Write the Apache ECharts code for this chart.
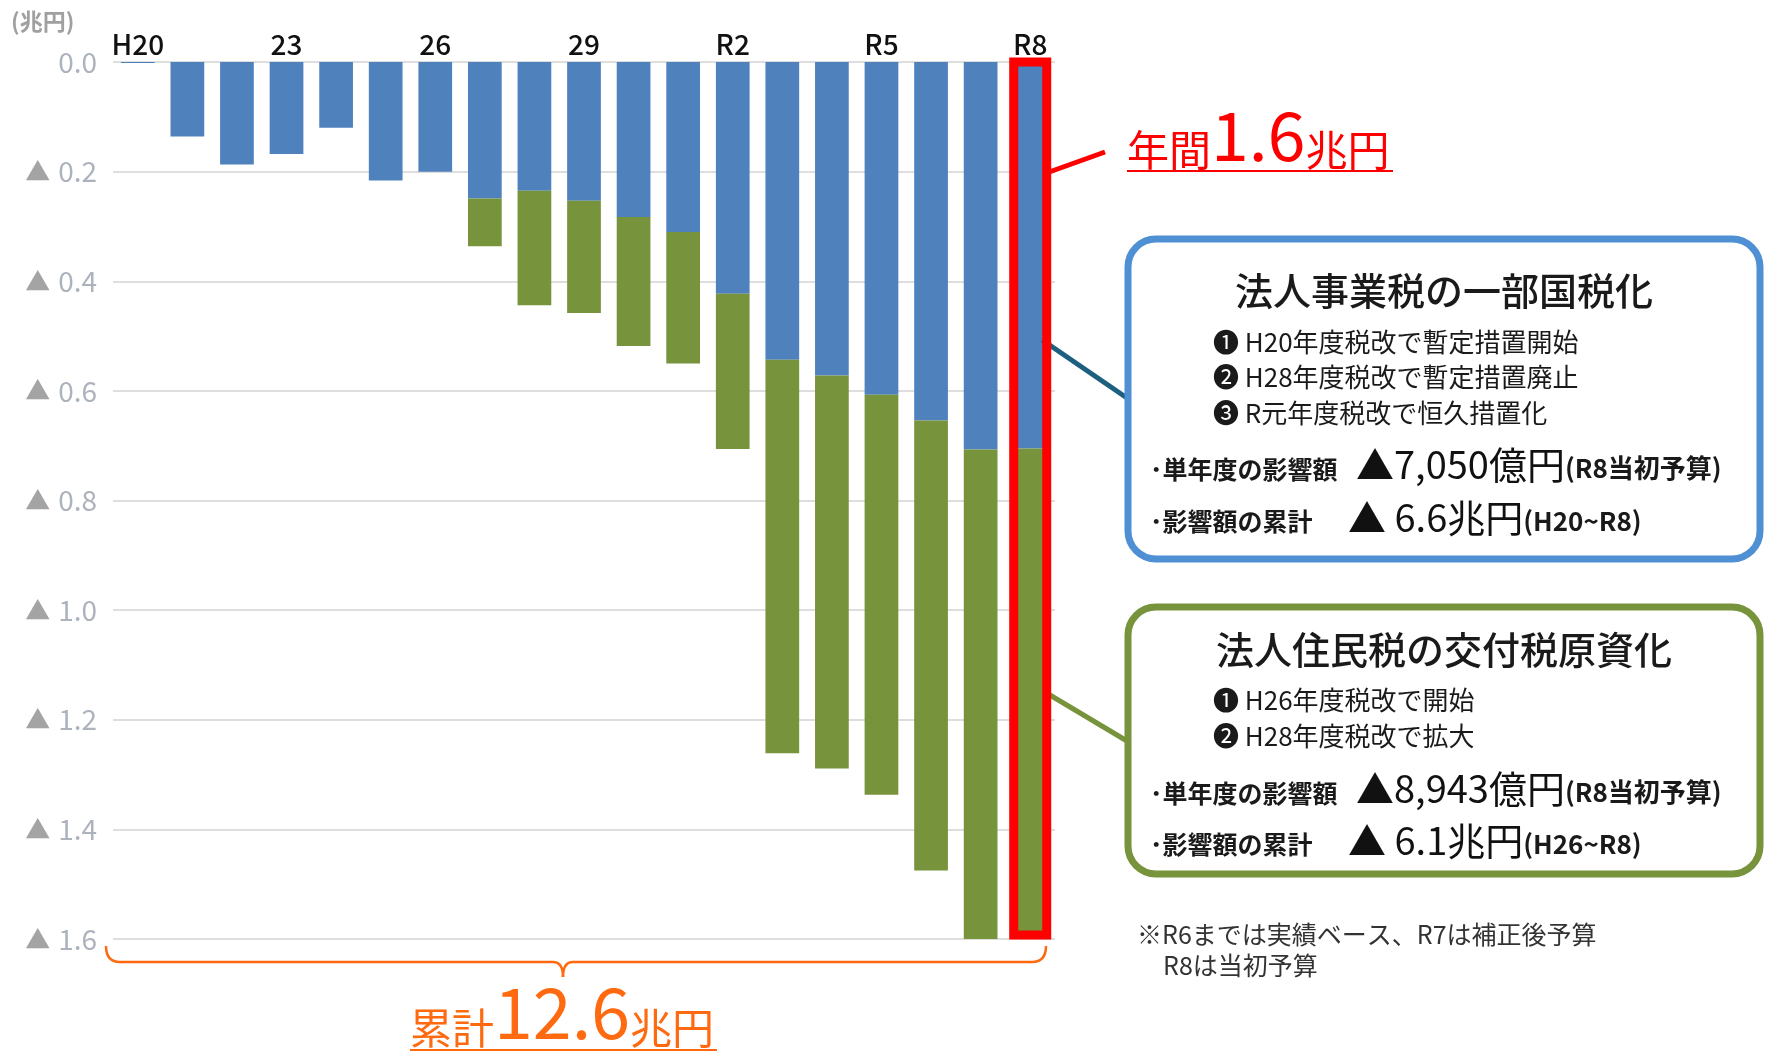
<!DOCTYPE html>
<html><head><meta charset="utf-8">
<script src="https://cdn.jsdelivr.net/npm/echarts@6/dist/echarts.min.js"></script>
<style>html,body{margin:0;padding:0;background:#fff}#c{width:1767px;height:1053px}</style>
</head><body><div id="c"></div>
<script>
// ---- data (兆円) ----
const categories = ['H20','21','22','23','24','25','26','27','28','29','30','R元','R2','R3','R4','R5','R6','R7','R8'];
const enterpriseTax = [0.002,0.136,0.187,0.168,0.120,0.216,0.200,0.249,0.235,0.253,0.283,0.310,0.423,0.543,0.572,0.607,0.654,0.707,0.705];
const inhabitantTax = [0,0,0,0,0,0,0,0.087,0.209,0.205,0.235,0.240,0.283,0.718,0.717,0.730,0.821,0.893,0.894];
const yMin = 0, yMax = 1.6, yStep = 0.2;
const shownTickIdx = [0,3,6,9,12,15,18];

const FONT = '"Noto Sans CJK JP","Noto Sans",sans-serif';
const chart = echarts.init(document.getElementById('c'), null, {renderer:'canvas'});

const option = {
  animation: false,
  backgroundColor: '#fff',
  grid: {left: 113, right: 712, top: 62, bottom: 114},
  xAxis: {
    type: 'category', data: categories, position: 'top',
    axisLine: {show: false}, axisTick: {show: false},
    axisLabel: {
      interval: (i) => shownTickIdx.includes(i),
      color: '#111', fontSize: 28, fontWeight: 500, fontFamily: FONT, margin: 4
    }
  },
  yAxis: {
    type: 'value', inverse: true, min: yMin, max: yMax, interval: yStep,
    axisLine: {show: false}, axisTick: {show: false},
    splitLine: {lineStyle: {color: '#dedede', width: 2}},
    axisLabel: {
      margin: 16, fontFamily: FONT,
      formatter: (v) => v === 0 ? '{n|0.0}' : '{t|▲}{n|' + v.toFixed(1) + '}',
      rich: {
        t: {color: '#a4a4a4', fontSize: 25, fontFamily: FONT, padding: [0, 8, 0, 0]},
        n: {color: '#adb3bd', fontSize: 28, fontFamily: FONT}
      }
    }
  },
  series: [
    {name: '法人事業税', type: 'bar', stack: 'total', data: enterpriseTax, barWidth: '68%',
     itemStyle: {color: '#4f81bd'}},
    {name: '法人住民税', type: 'bar', stack: 'total', data: inhabitantTax, barWidth: '68%',
     itemStyle: {color: '#77933c'}}
  ]
};
chart.setOption(option);

// positions derived from the chart scales
const last = categories.length - 1;
const p0 = chart.convertToPixel({gridIndex: 0}, [last, yMin]);
const p1 = chart.convertToPixel({gridIndex: 0}, [last, yMax]);
const cx = p0[0];

const boxText = (x, y, text, size, opts = {}) => ({
  type: 'text', z: 10,
  style: Object.assign({x, y, text, fill: '#1a1a1a', font: (opts.weight || 'normal') + ' ' + size + 'px ' + FONT,
    textAlign: opts.align || 'left', textVerticalAlign: 'middle'}, opts.style || {})
});

const rich = (x, y, text, richDef, align) => ({
  type: 'text', z: 10,
  style: {x, y, text, rich: richDef, textAlign: align || 'left', textVerticalAlign: 'middle', fill: '#1a1a1a', font: '24px ' + FONT}
});

const statRich = {
  b: {fontSize: 38, fontFamily: FONT, fill: '#111', verticalAlign: 'bottom'},
  p: {fontSize: 26, fontWeight: 'bold', fontFamily: FONT, fill: '#1a1a1a', verticalAlign: 'bottom', padding: [0,0,3,0]}
};
const ORANGE = '#ff6a10';

const graphics = [
  // unit
  boxText(11, 21, '(兆円)', 23, {weight: 'bold', style: {fill: '#a0a0a0'}}),
  // red highlight around latest year
  {type: 'rect', z: 20, shape: {x: cx - 16.5, y: p0[1], width: 33, height: p1[1] - p0[1] - 4},
   style: {fill: 'none', stroke: '#ff0000', lineWidth: 9}},
  {type: 'line', z: 20, shape: {x1: cx + 19, y1: 172, x2: 1105, y2: 152}, style: {stroke: '#ff0000', lineWidth: 5}},
  {type: 'text', z: 20, style: {x: 1127, y: 169, text: '{a|年間}{b|1.6}{a|兆円}',
    textVerticalAlign: 'bottom',
    rich: {a: {fontSize: 42, fontFamily: FONT, fill: '#ff0000', verticalAlign: 'bottom', padding: [0,0,-2,0]},
           b: {fontSize: 68, fontFamily: FONT, fill: '#ff0000', verticalAlign: 'bottom'}}}},
  {type: 'line', z: 20, shape: {x1: 1127, y1: 171, x2: 1393, y2: 171}, style: {stroke: '#ff0000', lineWidth: 2}},

  // connectors
  {type: 'line', z: 5, shape: {x1: cx + 12, y1: 340, x2: 1127, y2: 398}, style: {stroke: '#1d5f7e', lineWidth: 5}},
  {type: 'line', z: 5, shape: {x1: cx + 18, y1: 694, x2: 1127, y2: 741}, style: {stroke: '#77933c', lineWidth: 5}},

  // blue box
  {type: 'rect', z: 6, shape: {x: 1128, y: 239, width: 632, height: 320, r: 28},
   style: {fill: '#fff', stroke: '#4f90d4', lineWidth: 7}},
  boxText(1444, 291, '法人事業税の一部国税化', 38, {align: 'center', weight: 500}),
  boxText(1213, 342, '❶ H20年度税改で暫定措置開始', 26),
  boxText(1213, 377, '❷ H28年度税改で暫定措置廃止', 26),
  boxText(1213, 413, '❸ R元年度税改で恒久措置化', 26),
  boxText(1150, 469, '･単年度の影響額', 25, {weight: 'bold'}),
  rich(1356, 465, '{b|▲7,050億円}{p|(R8当初予算)}', statRich),
  boxText(1150, 521, '･影響額の累計', 25, {weight: 'bold'}),
  rich(1348, 518, '{b|▲ 6.6兆円}{p|(H20~R8)}', statRich),

  // green box
  {type: 'rect', z: 6, shape: {x: 1128, y: 607, width: 632, height: 267, r: 28},
   style: {fill: '#fff', stroke: '#77933c', lineWidth: 7}},
  boxText(1444, 650, '法人住民税の交付税原資化', 38, {align: 'center', weight: 500}),
  boxText(1213, 700, '❶ H26年度税改で開始', 26),
  boxText(1213, 736, '❷ H28年度税改で拡大', 26),
  boxText(1150, 793, '･単年度の影響額', 25, {weight: 'bold'}),
  rich(1356, 789, '{b|▲8,943億円}{p|(R8当初予算)}', statRich),
  boxText(1150, 844, '･影響額の累計', 25, {weight: 'bold'}),
  rich(1348, 841, '{b|▲ 6.1兆円}{p|(H26~R8)}', statRich),

  // footnote
  boxText(1137, 934, '※R6までは実績ベース、R7は補正後予算', 25, {style: {fill: '#333'}}),
  boxText(1163, 965, 'R8は当初予算', 25, {style: {fill: '#333'}}),

  // brace
  {type: 'bezierCurve', z: 5, shape: {x1: 106, y1: 946, cpx1: 106, cpy1: 962, x2: 120, y2: 962}, style: {fill: 'none', stroke: ORANGE, lineWidth: 2.5}},
  {type: 'line', z: 5, shape: {x1: 120, y1: 962, x2: 553, y2: 962}, style: {stroke: ORANGE, lineWidth: 2.5}},
  {type: 'bezierCurve', z: 5, shape: {x1: 553, y1: 962, cpx1: 563, cpy1: 962, x2: 563, y2: 977}, style: {fill: 'none', stroke: ORANGE, lineWidth: 2.5}},
  {type: 'bezierCurve', z: 5, shape: {x1: 563, y1: 977, cpx1: 563, cpy1: 962, x2: 573, y2: 962}, style: {fill: 'none', stroke: ORANGE, lineWidth: 2.5}},
  {type: 'line', z: 5, shape: {x1: 573, y1: 962, x2: 1032, y2: 962}, style: {stroke: ORANGE, lineWidth: 2.5}},
  {type: 'bezierCurve', z: 5, shape: {x1: 1032, y1: 962, cpx1: 1046, cpy1: 962, x2: 1046, y2: 946}, style: {fill: 'none', stroke: ORANGE, lineWidth: 2.5}},
  {type: 'text', z: 20, style: {x: 410, y: 1047, text: '{a|累計}{b|12.6}{a|兆円}',
    textVerticalAlign: 'bottom',
    rich: {a: {fontSize: 42, fontFamily: FONT, fill: ORANGE, verticalAlign: 'bottom', padding: [0,0,-2,0]},
           b: {fontSize: 70, fontFamily: FONT, fill: ORANGE, verticalAlign: 'bottom'}}}},
  {type: 'line', z: 20, shape: {x1: 410, y1: 1050, x2: 717, y2: 1050}, style: {stroke: ORANGE, lineWidth: 2}}
];
chart.setOption({graphic: {elements: graphics}});
</script></body></html>
